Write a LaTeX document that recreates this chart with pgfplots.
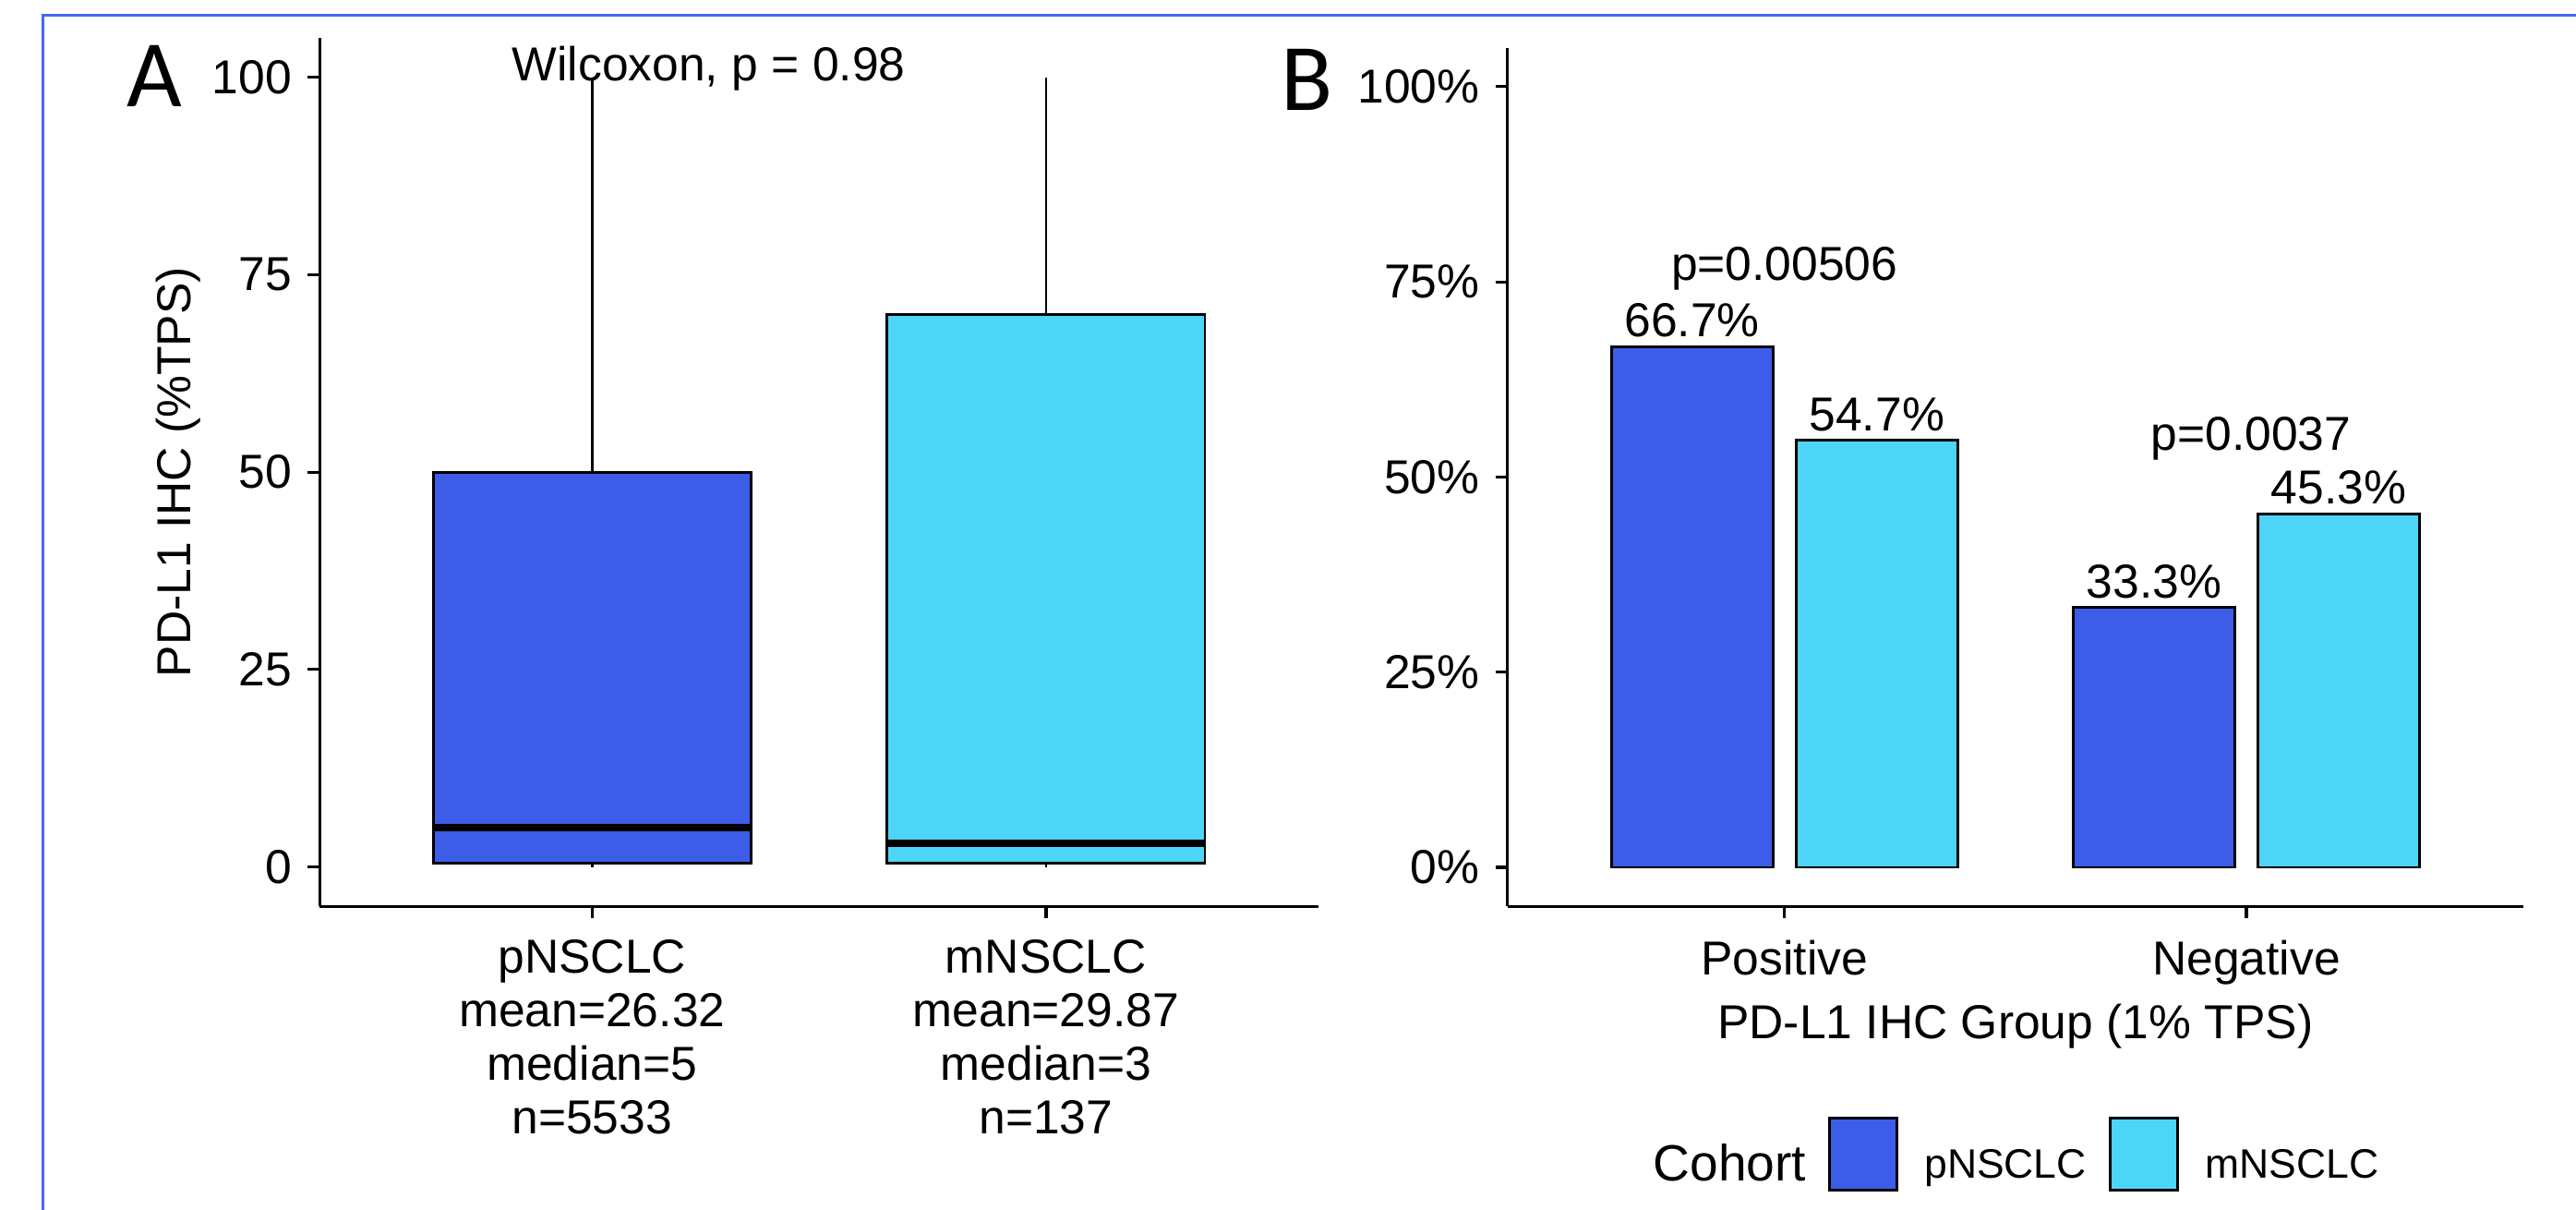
\documentclass[border=0pt]{standalone}
\usepackage{fontspec}
\setmainfont{Liberation Sans}
\newfontfamily\panelfont{Carlito}
\usepackage{pgfplots}
\pgfplotsset{compat=1.18}
\usepgfplotslibrary{statistics}
\definecolor{pblue}{HTML}{3D5CE8}
\definecolor{mblue}{HTML}{4DD5F7}
\definecolor{framecol}{HTML}{4868F0}
\newcommand{\fs}{\fontsize{14.5}{16.25}\selectfont}
\begin{document}
\begin{tikzpicture}
\path[use as bounding box] (0,0) rectangle (784pt,368pt);
\draw[framecol, line width=0.75pt] (13pt,-2pt) -- (13pt,363.4pt) -- (790pt,363.4pt);
\pgfplotsset{
  mystyle/.style={
    scale only axis,
    axis x line*=bottom, axis y line*=left,
    axis line style={line width=0.9pt, black, -},
    every tick/.style={line width=0.9pt, black},
    tick align=outside,
    major tick length=3.65pt,
    ticklabel style={font=\fs},
    label style={font=\fs},
    yticklabel style={anchor=east, inner sep=0pt, xshift=-4.65pt},
    xticklabel style={anchor=north, align=center, inner sep=0pt, yshift=-6.35pt},
    xmin=0.4, xmax=2.6, ymin=-5, ymax=105,
    xtick={1,2}, ytick={0,25,50,75,100},
    clip=false,
  }
}
% Panel A
\begin{axis}[mystyle, at={(97.3pt,92.25pt)}, anchor=south west,
  width=303.95pt, height=264.25pt,
  xticklabels={{pNSCLC\\mean=26.32\\median=5\\n=5533},{mNSCLC\\mean=29.87\\median=3\\n=137}},
  yticklabels={0,25,50,75,100},
  ylabel={PD-L1 IHC (\%TPS)},
  ylabel style={at={(axis description cs:-0.129,0.5)}, anchor=base, rotate=0},
  boxplot/draw direction=y,
  boxplot/every median/.style={line width=2.4pt},
]
\addplot[boxplot prepared={draw position=1, lower whisker=0, lower quartile=0.5,
  median=5, upper quartile=50, upper whisker=100, box extend=0.7, whisker extend=0},
  fill=pblue, draw=black, line width=0.8pt] coordinates {};
\addplot[boxplot prepared={draw position=2, lower whisker=0, lower quartile=0.5,
  median=3, upper quartile=70, upper whisker=100, box extend=0.7, whisker extend=0},
  fill=mblue, draw=black, line width=0.8pt] coordinates {};
\node[anchor=base, inner sep=0pt, font=\fs] at (axis cs:1.257,99.5) {Wilcoxon, p = 0.98};
\end{axis}
% Panel B
\begin{axis}[mystyle, at={(458.75pt,92.25pt)}, anchor=south west,
  width=309.25pt, height=261.25pt,
  ybar=7.03pt, bar width=0.35,
  xticklabels={Positive,Negative},
  yticklabels={0\%,25\%,50\%,75\%,100\%},
  xlabel={PD-L1 IHC Group (1\% TPS)},
  xlabel style={at={(axis description cs:0.5,-0.154)}, anchor=base},
  /pgf/number format/assume math mode=true,
  nodes near coords={\pgfmathprintnumber[fixed,fixed zerofill,precision=1]{\pgfplotspointmeta}\%},
  nodes near coords style={anchor=south, inner sep=0pt, yshift=2.4pt, font=\fs},
]
\addplot[fill=pblue, draw=black, line width=0.8pt]
  coordinates {(1,66.7) (2,33.3)};
\addplot[fill=mblue, draw=black, line width=0.8pt]
  coordinates {(1,54.7) (2,45.3)};
\node[anchor=base, inner sep=0pt, font=\fs] at (axis cs:1,75.2) {p=0.00506};
\node[anchor=base, inner sep=0pt, font=\fs] at (axis cs:2.01,53.45) {p=0.0037};
\end{axis}
% panel letters
\node[anchor=base west, inner sep=0pt, font=\panelfont\fontsize{29}{29}\selectfont] at (38.5pt,335.65pt) {A};
\node[anchor=base west, inner sep=0pt, font=\panelfont\fontsize{29}{29}\selectfont] at (389.75pt,334.5pt) {B};
% legend
\node[anchor=base west, inner sep=0pt, font=\fontsize{15.5}{16}\selectfont] at (503pt,8.7pt) {Cohort};
\draw[fill=pblue, draw=black, line width=0.8pt] (556.9pt,6pt) rectangle (577.4pt,27.75pt);
\node[anchor=base west, inner sep=0pt, font=\fontsize{12.5}{13}\selectfont] at (585.5pt,9.65pt) {pNSCLC};
\draw[fill=mblue, draw=black, line width=0.8pt] (642.25pt,6pt) rectangle (662.75pt,27.75pt);
\node[anchor=base west, inner sep=0pt, font=\fontsize{12.5}{13}\selectfont] at (671pt,9.65pt) {mNSCLC};
\end{tikzpicture}
\end{document}
